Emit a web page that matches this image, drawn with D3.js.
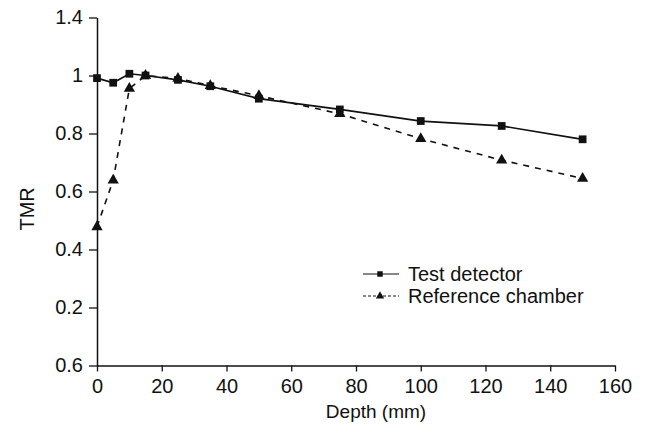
<!DOCTYPE html>
<html>
<head>
<meta charset="utf-8">
<script src="https://cdn.jsdelivr.net/npm/d3@7"></script>
<style>
  body { margin: 0; background: #fff; }
  text { font-family: "Liberation Sans", Arial, sans-serif; fill: #111; }
</style>
</head>
<body>
<div id="chart"></div>
<script>
// depth in mm
const depths = [0, 5, 10, 15, 25, 35, 50, 75, 100, 125, 150];
const testDetector = [0.991, 0.975, 1.006, 1.0, 0.985, 0.963, 0.92, 0.883, 0.843, 0.826, 0.78];
const referenceChamber = [0.478, 0.639, 0.955, 1.0, 0.99, 0.965, 0.93, 0.868, 0.782, 0.708, 0.645];

const xTicks = [0, 20, 40, 60, 80, 100, 120, 140, 160];
const yTicks = [0, 0.2, 0.4, 0.6, 0.8, 1.0, 1.2];
// labels as printed in the original figure
const yTickLabels = ["0.6", "0.2", "0.4", "0.6", "0.8", "1", "1.4"];

const seriesNames = ["Test detector", "Reference chamber"];

const width = 646, height = 435;

const svg = d3.select("#chart").append("svg")
    .attr("width", width)
    .attr("height", height);

const x = d3.scaleLinear().domain([0, 160]).range([97, 615]);
const y = d3.scaleLinear().domain([0, 1.2]).range([365.5, 17.5]);

// x axis
const xAxis = d3.axisBottom(x)
    .tickValues(xTicks)
    .tickSize(6)
    .tickPadding(7)
    .tickSizeOuter(0);

const xAxisG = svg.append("g")
    .attr("transform", `translate(0, ${y(0)})`)
    .call(xAxis);

// y axis
const yAxis = d3.axisLeft(y)
    .tickValues(yTicks)
    .tickFormat((d, i) => yTickLabels[i])
    .tickSize(8)
    .tickPadding(6)
    .tickSizeOuter(0);

const yAxisG = svg.append("g")
    .attr("transform", `translate(${x(0)}, 0)`)
    .call(yAxis);

[xAxisG, yAxisG].forEach(g => {
    g.select(".domain").attr("stroke", "#111").attr("stroke-width", 1.5);
    g.selectAll(".tick line").attr("stroke", "#111").attr("stroke-width", 1.3);
    g.selectAll(".tick text")
        .style("font-size", "20px")
        .style("font-family", "'Liberation Sans', Arial, sans-serif")
        .attr("fill", "#111");
});

// axis titles
svg.append("text")
    .attr("x", 376)
    .attr("y", 418)
    .attr("text-anchor", "middle")
    .style("font-size", "19px")
    .text("Depth (mm)");

svg.append("text")
    .attr("transform", `translate(34, ${y(0.54)}) rotate(-90)`)
    .attr("text-anchor", "middle")
    .style("font-size", "20px")
    .text("TMR");

// lines
const line = d3.line()
    .x(d => x(d[0]))
    .y(d => y(d[1]));

const testData = depths.map((d, i) => [d, testDetector[i]]);
const refData = depths.map((d, i) => [d, referenceChamber[i]]);

svg.append("path")
    .datum(refData)
    .attr("fill", "none")
    .attr("stroke", "#111")
    .attr("stroke-width", 1.6)
    .attr("stroke-dasharray", "6,6")
    .attr("d", line);

svg.append("path")
    .datum(testData)
    .attr("fill", "none")
    .attr("stroke", "#111")
    .attr("stroke-width", 1.7)
    .attr("d", line);

const tri = d3.symbol().type(d3.symbolTriangle).size(55);
const sq = d3.symbol().type(d3.symbolSquare).size(60);

svg.selectAll(".ref-pt")
    .data(refData)
    .enter()
    .append("path")
    .attr("class", "ref-pt")
    .attr("d", tri)
    .attr("fill", "#111")
    .attr("transform", d => `translate(${x(d[0])}, ${y(d[1])})`);

svg.selectAll(".test-pt")
    .data(testData)
    .enter()
    .append("path")
    .attr("class", "test-pt")
    .attr("d", sq)
    .attr("fill", "#111")
    .attr("transform", d => `translate(${x(d[0])}, ${y(d[1])})`);

// legend
const legend = svg.append("g").attr("transform", "translate(363, 274)");
seriesNames.forEach((name, i) => {
    const g = legend.append("g").attr("transform", `translate(0, ${i * 22})`);
    g.append("line")
        .attr("x1", 0).attr("x2", 36)
        .attr("y1", 0).attr("y2", 0)
        .attr("stroke", "#111")
        .attr("stroke-width", 1)
        .attr("stroke-dasharray", i === 0 ? null : "3,2");
    g.append("path")
        .attr("d", i === 0 ? d3.symbol().type(d3.symbolSquare).size(30)() : d3.symbol().type(d3.symbolTriangle).size(30)())
        .attr("fill", "#111")
        .attr("transform", "translate(17, 0)");
    g.append("text")
        .attr("x", 45)
        .attr("y", 7)
        .style("font-size", "20px")
        .text(name);
});
</script>
</body>
</html>
